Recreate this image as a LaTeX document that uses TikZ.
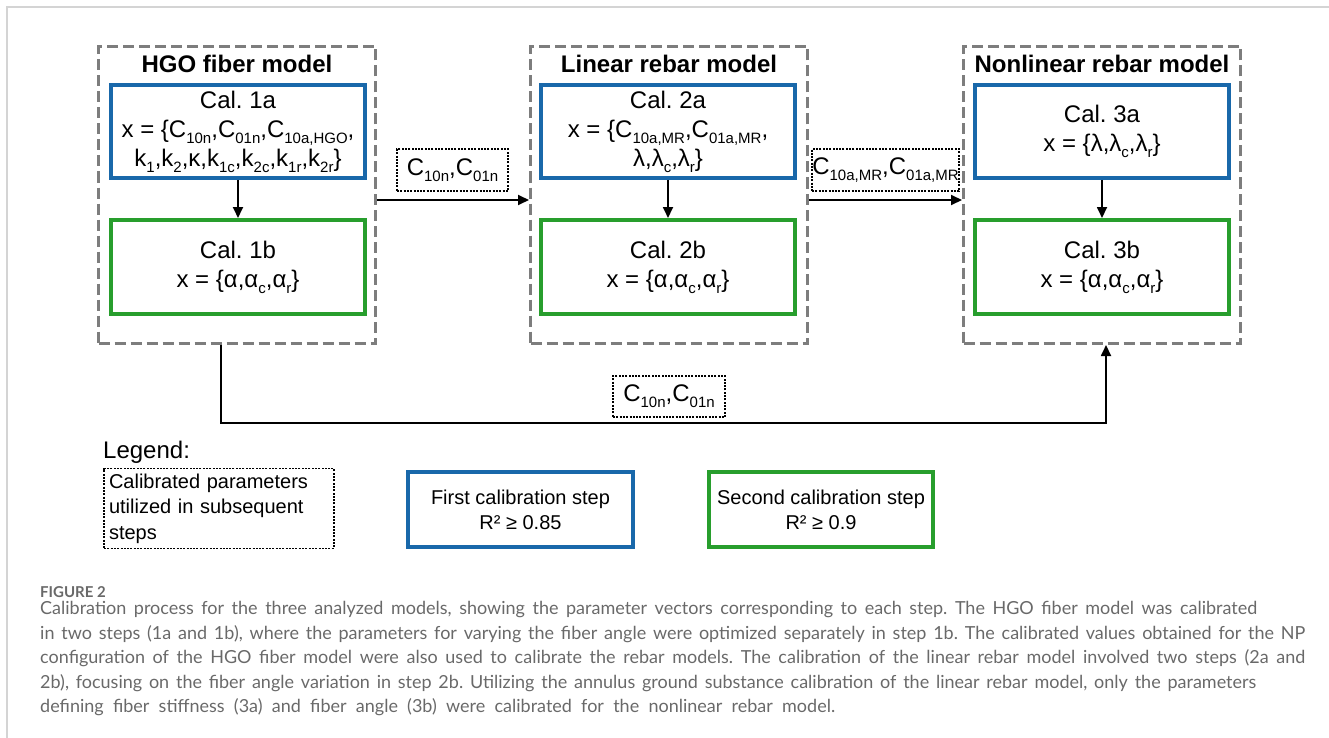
\documentclass[tikz,border=0pt]{standalone}
\usepackage{fontspec}
\setmainfont{Liberation Sans}
\newfontfamily\capfont{Lato}
\usetikzlibrary{arrows.meta}
\frenchspacing
\definecolor{cblue}{RGB}{25,104,170}
\definecolor{cgreen}{RGB}{40,158,45}
\definecolor{cgrey}{RGB}{125,125,125}
\definecolor{capgrey}{RGB}{105,105,105}
\definecolor{framegrey}{RGB}{212,212,212}
\newcommand{\sbs}[1]{\raisebox{-0.25em}{\fontsize{15}{15}\selectfont #1}}
\newcommand{\capline}[2]{\makebox[#1pt][s]{#2}}
\tikzset{
  container/.style={draw=cgrey, line width=3pt, dash pattern=on 11pt off 5pt, minimum width=277pt, minimum height=297pt, inner sep=0pt},
  modeltitle/.style={font=\fontsize{24}{28}\selectfont\bfseries, inner sep=0pt},
  firstbox/.style={draw=cblue, line width=4pt, minimum width=254pt, minimum height=93pt, align=center, inner sep=0pt, font=\fontsize{24}{29}\selectfont},
  secondbox/.style={draw=cgreen, line width=4pt, minimum width=254pt, minimum height=94pt, align=center, inner sep=0pt, font=\fontsize{24}{29}\selectfont},
  parambox/.style={draw=black, line width=1.2pt, dash pattern=on 2pt off 1.3pt, minimum height=42pt, inner sep=0pt, font=\fontsize{24}{28}\selectfont},
  legfirst/.style={draw=cblue, line width=4pt, minimum width=225pt, minimum height=75pt, align=center, inner sep=0pt, font=\fontsize{20}{25}\selectfont},
  legsecond/.style={draw=cgreen, line width=4pt, minimum width=224pt, minimum height=75pt, align=center, inner sep=0pt, font=\fontsize{20}{25}\selectfont},
  conn/.style={draw=black, line width=1.8pt, -{Triangle[length=11pt,width=10pt]}},
  captext/.style={anchor=west, inner sep=0pt, text=capgrey, font=\capfont\fontsize{18}{22}\selectfont}
}
\begin{document}
\begin{tikzpicture}[x=1pt,y=-1pt]
\useasboundingbox (0,0) rectangle (1329,738);
\draw[framegrey, line width=1.5pt] (7,738) -- (7,7) -- (1329,7);

% containers
\node[container] (hgo) at (237,195) {};
\node[container] (lin) at (669,195) {};
\node[container] (nl) at (1102,195) {};
\node[modeltitle] (hgot) at (237,64) {HGO fiber model};
\node[modeltitle] (lint) at (669,64) {Linear rebar model};
\node[modeltitle] (nlt) at (1102,64) {Nonlinear rebar model};

% calibration steps
\node[firstbox] (c1a) at (238,131.5) {Cal. 1a\\x = \{C\sbs{10n},C\sbs{01n},C\sbs{10a,HGO},\\k\sbs{1},k\sbs{2},κ,k\sbs{1c},k\sbs{2c},k\sbs{1r},k\sbs{2r}\}};
\node[secondbox] (c1b) at (238,267) {Cal. 1b\\x = \{α,α\sbs{c},α\sbs{r}\}};
\node[firstbox] (c2a) at (668,131.5) {Cal. 2a\\x = \{C\sbs{10a,MR},C\sbs{01a,MR},\\λ,λ\sbs{c},λ\sbs{r}\}};
\node[secondbox] (c2b) at (668,267) {Cal. 2b\\x = \{α,α\sbs{c},α\sbs{r}\}};
\node[firstbox] (c3a) at (1102,131.5) {Cal. 3a\\x = \{λ,λ\sbs{c},λ\sbs{r}\}};
\node[secondbox] (c3b) at (1102,267) {Cal. 3b\\x = \{α,α\sbs{c},α\sbs{r}\}};

\draw[conn] (c1a) -- (c1b);
\draw[conn] (c2a) -- (c2b);
\draw[conn] (c3a) -- (c3b);

% transfers
\draw[conn] ([yshift=-5pt]hgo.east) -- ([yshift=-5pt]lin.west);
\draw[conn] ([yshift=-5pt]lin.east) -- ([yshift=-5pt]nl.west);
\draw[conn] ([xshift=-16pt]hgo.south) -- ++(0,78) -| ([xshift=4pt]nl.south);

\node[parambox, minimum width=111pt] (p12) at (452.5,170) {C\sbs{10n},C\sbs{01n}};
\node[parambox, minimum width=147pt] (p23) at (885.5,170) {C\sbs{10a,MR},C\sbs{01a,MR}};
\node[parambox, minimum width=112pt, minimum height=41pt] (p13) at (669,396.5) {C\sbs{10n},C\sbs{01n}};

% legend
\node[anchor=west, inner sep=0pt, font=\fontsize{24}{28}\selectfont] (legt) at (103,452) {Legend:};
\node[draw=black, line width=1.2pt, dash pattern=on 2pt off 1.3pt, minimum width=230pt, minimum height=79pt, text width=220pt, align=left, inner sep=5pt, font=\fontsize{20}{25.5}\selectfont] (legp) at (219,508.5) {Calibrated parameters\\utilized in subsequent\\steps};
\node[legfirst] (leg1) at (520.5,509.5) {First calibration step\\R² ≥ 0.85};
\node[legsecond] (leg2) at (821,509.5) {Second calibration step\\R² ≥ 0.9};

% caption
\node[captext, font=\capfont\bfseries\fontsize{15}{18}\selectfont] (figlab) at (40,592) {FIGURE 2};
\node[captext] (cap1) at (40,610) {\capline{1217}{Calibration process for the three analyzed models, showing the parameter vectors corresponding to each step. The HGO fiber model was calibrated}};
\node[captext] (cap2) at (40,634) {\capline{1265}{in two steps (1a and 1b), where the parameters for varying the fiber angle were optimized separately in step 1b. The calibrated values obtained for the NP}};
\node[captext] (cap3) at (40,658) {\capline{1265}{configuration of the HGO fiber model were also used to calibrate the rebar models. The calibration of the linear rebar model involved two steps (2a and}};
\node[captext] (cap4) at (40,683) {\capline{1216}{2b), focusing on the fiber angle variation in step 2b. Utilizing the annulus ground substance calibration of the linear rebar model, only the parameters}};
\node[captext] (cap5) at (40,707) {\capline{795}{defining fiber stiffness (3a) and fiber angle (3b) were calibrated for the nonlinear rebar model.}};
\end{tikzpicture}
\end{document}
